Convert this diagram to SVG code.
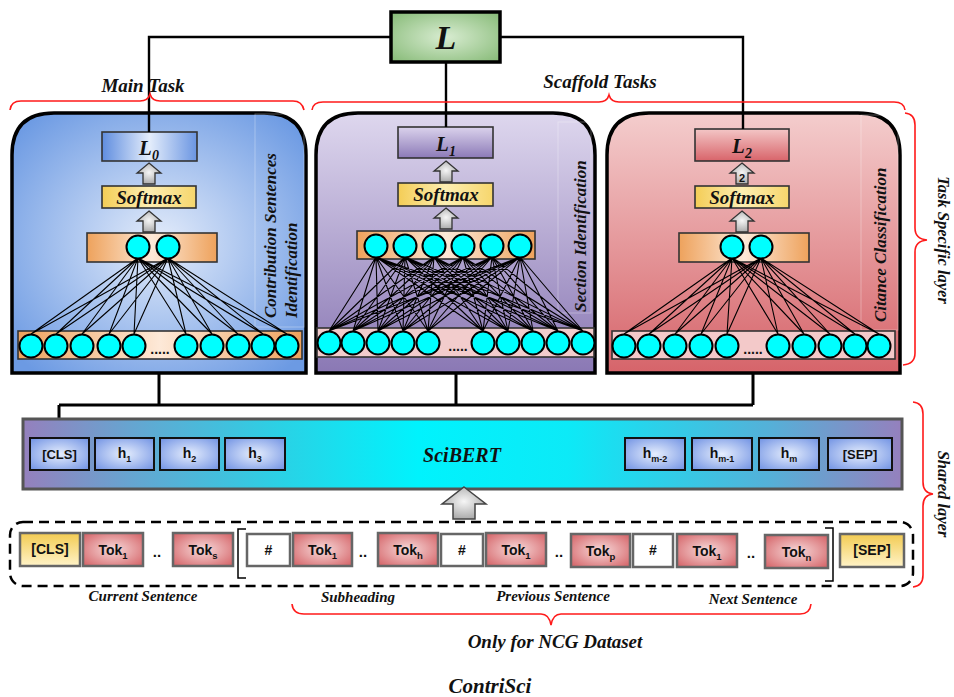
<svg xmlns="http://www.w3.org/2000/svg" width="954" height="697" viewBox="0 0 954 697">
  <style>
    .bi { font-family: "Liberation Serif", "Times New Roman", serif; font-weight: bold; font-style: italic; fill: #111; }
    .sans { font-family: "Liberation Sans", Arial, sans-serif; font-weight: bold; fill: #111; }
    .panel { stroke: #000; stroke-width: 3.5; }
    .frame { fill: none; stroke: #fff; stroke-opacity: 0.3; stroke-width: 1; }
    .node { fill: #00ffff; stroke: #000; stroke-width: 2; }
    .mesh { fill: none; stroke: #000; stroke-width: 1.1; }
    .box { stroke: #333; stroke-width: 1.6; }
    .arrow { fill: url(#gArrow); stroke: #333; stroke-width: 1.3; }
    .brace { fill: none; stroke: #ff1a1a; stroke-width: 1.6; }
    .wire { fill: none; stroke: #000; stroke-width: 2.4; }
    .wire2 { fill: none; stroke: #000; stroke-width: 3; }
    .hbox { fill: url(#gH); stroke: #111; stroke-width: 2; }
    .tok { fill: url(#gTok); stroke: #666; stroke-width: 2.5; }
    .yel { fill: url(#gYel); stroke: #666; stroke-width: 2.5; }
    .hash { fill: #fff; stroke: #666; stroke-width: 2.5; }
  </style>
  <defs>
    <radialGradient id="gPanel1" cx="50%" cy="50%" r="65%">
      <stop offset="0" stop-color="#e4ecfa"/>
      <stop offset="1" stop-color="#6c9ae3"/>
    </radialGradient>
    <linearGradient id="gL0" x1="0" y1="0" x2="1" y2="0">
      <stop offset="0" stop-color="#5f8ddf"/>
      <stop offset="0.5" stop-color="#e4edfb"/>
      <stop offset="1" stop-color="#6a95e2"/>
    </linearGradient>
    <linearGradient id="gPanel2" x1="0" y1="0" x2="0" y2="1">
      <stop offset="0" stop-color="#ded7ee"/>
      <stop offset="1" stop-color="#8a78b4"/>
    </linearGradient>
    <linearGradient id="gL1" x1="0" y1="0" x2="0" y2="1">
      <stop offset="0" stop-color="#dad2ec"/>
      <stop offset="1" stop-color="#8c7ab7"/>
    </linearGradient>
    <linearGradient id="gPanel3" x1="0" y1="0" x2="0" y2="1">
      <stop offset="0" stop-color="#f4cdcd"/>
      <stop offset="1" stop-color="#d6646a"/>
    </linearGradient>
    <linearGradient id="gL2" x1="0" y1="0" x2="0" y2="1">
      <stop offset="0" stop-color="#f3c6c6"/>
      <stop offset="1" stop-color="#d8646a"/>
    </linearGradient>
    <linearGradient id="gSoft" x1="0" y1="0" x2="1" y2="0">
      <stop offset="0" stop-color="#f4cd56"/>
      <stop offset="0.5" stop-color="#fdeeb2"/>
      <stop offset="1" stop-color="#f6d66c"/>
    </linearGradient>
    <linearGradient id="gOrange" x1="0" y1="0" x2="1" y2="0">
      <stop offset="0" stop-color="#eea25c"/>
      <stop offset="0.5" stop-color="#fde9d8"/>
      <stop offset="1" stop-color="#eea25c"/>
    </linearGradient>
    <radialGradient id="gGreen" cx="50%" cy="50%" r="65%">
      <stop offset="0" stop-color="#d8ecd1"/>
      <stop offset="1" stop-color="#8bbd7c"/>
    </radialGradient>
    <linearGradient id="gSci" x1="0" y1="0" x2="1" y2="0">
      <stop offset="0" stop-color="#9580bd"/>
      <stop offset="0.12" stop-color="#67a4d0"/>
      <stop offset="0.3" stop-color="#28d3e6"/>
      <stop offset="0.45" stop-color="#00f3fd"/>
      <stop offset="0.62" stop-color="#0ceaf7"/>
      <stop offset="0.85" stop-color="#55b0d8"/>
      <stop offset="1" stop-color="#9580bd"/>
    </linearGradient>
    <radialGradient id="gH" cx="50%" cy="50%" r="65%">
      <stop offset="0" stop-color="#e6eefd"/>
      <stop offset="1" stop-color="#7898e5"/>
    </radialGradient>
    <radialGradient id="gTok" cx="50%" cy="50%" r="65%">
      <stop offset="0" stop-color="#f7dada"/>
      <stop offset="1" stop-color="#d6686c"/>
    </radialGradient>
    <linearGradient id="gYel" x1="0" y1="0" x2="0" y2="1">
      <stop offset="0" stop-color="#f2cb52"/>
      <stop offset="1" stop-color="#fff3c8"/>
    </linearGradient>
    <radialGradient id="gArrow" cx="50%" cy="45%" r="65%">
      <stop offset="0" stop-color="#f6f6f6"/>
      <stop offset="1" stop-color="#9e9e9e"/>
    </radialGradient>
    <!-- small up arrow, tip at origin -->
    <polygon id="up" points="0,0 12,10 6,10 6,21 -6,21 -6,10 -12,10"/>
  </defs>

  <rect width="954" height="697" fill="#fff"/>

  <!-- Task panels -->
  <g id="panel-main">
    <path class="panel" fill="url(#gPanel1)" d="M12 373 L12 155 Q12 113 54 113 L264 113 Q306 113 306 155 L306 373 Z"/>
    <rect class="frame" x="255" y="114" width="49" height="213"/>
    <rect class="box" x="102" y="132" width="95" height="29" fill="url(#gL0)"/>
    <text class="bi" x="149" y="155" font-size="21" text-anchor="middle">L<tspan dy="5" font-size="14">0</tspan></text>
    <use href="#up" class="arrow" x="149" y="163"/>
    <rect class="box" x="102" y="186" width="94" height="22" fill="url(#gSoft)"/>
    <text class="bi" x="149" y="204" font-size="19" text-anchor="middle">Softmax</text>
    <use href="#up" class="arrow" x="149" y="211"/>
    <rect class="box" x="87" y="233" width="130" height="29" fill="url(#gOrange)"/>
    <rect class="box" x="18" y="331" width="284" height="28" fill="url(#gOrange)"/>
    <path class="mesh" d="M138 258 31 334M138 258 56 334M138 258 82 334M138 258 109 334M138 258 134 334M138 258 186 334M138 258 212 334M138 258 238 334M138 258 263 334M138 258 287 334M168 258 31 334M168 258 56 334M168 258 82 334M168 258 109 334M168 258 134 334M168 258 186 334M168 258 212 334M168 258 238 334M168 258 263 334M168 258 287 334"/>
    <circle class="node" cx="138" cy="247" r="11.5"/>
    <circle class="node" cx="168" cy="247" r="11.5"/>
    <circle class="node" cx="31" cy="346" r="11.5"/>
    <circle class="node" cx="56" cy="346" r="11.5"/>
    <circle class="node" cx="82" cy="346" r="11.5"/>
    <circle class="node" cx="109" cy="346" r="11.5"/>
    <circle class="node" cx="134" cy="346" r="11.5"/>
    <circle class="node" cx="186" cy="346" r="11.5"/>
    <circle class="node" cx="212" cy="346" r="11.5"/>
    <circle class="node" cx="238" cy="346" r="11.5"/>
    <circle class="node" cx="263" cy="346" r="11.5"/>
    <circle class="node" cx="287" cy="346" r="11.5"/>
    <text class="sans" x="160" y="354" font-size="14" text-anchor="middle">.....</text>
    <text class="bi" font-size="17" transform="translate(276,318) rotate(-90)">Contribution Sentences</text>
    <text class="bi" font-size="17" transform="translate(297,318) rotate(-90)">Identification</text>
  </g>

  <g id="panel-section">
    <path class="panel" fill="url(#gPanel2)" d="M316 373 L316 155 Q316 113 358 113 L553 113 Q595 113 595 155 L595 373 Z"/>
    <rect class="frame" x="558" y="122" width="33" height="191"/>
    <rect class="box" x="398" y="127" width="95" height="31" fill="url(#gL1)"/>
    <text class="bi" x="446" y="151" font-size="21" text-anchor="middle">L<tspan dy="5" font-size="14">1</tspan></text>
    <use href="#up" class="arrow" x="446" y="161"/>
    <rect class="box" x="398" y="183" width="95" height="23" fill="url(#gSoft)"/>
    <text class="bi" x="446" y="201" font-size="19" text-anchor="middle">Softmax</text>
    <use href="#up" class="arrow" x="446" y="208"/>
    <rect class="box" x="357" y="231" width="178" height="28" fill="url(#gOrange)"/>
    <rect class="box" x="317" y="328" width="277" height="29" fill="#f2cccc"/>
    <path class="mesh" d="M376 257 329 331M376 257 353 331M376 257 378 331M376 257 403 331M376 257 428 331M376 257 483 331M376 257 508 331M376 257 533 331M376 257 558 331M376 257 583 331M405 257 329 331M405 257 353 331M405 257 378 331M405 257 403 331M405 257 428 331M405 257 483 331M405 257 508 331M405 257 533 331M405 257 558 331M405 257 583 331M434 257 329 331M434 257 353 331M434 257 378 331M434 257 403 331M434 257 428 331M434 257 483 331M434 257 508 331M434 257 533 331M434 257 558 331M434 257 583 331M463 257 329 331M463 257 353 331M463 257 378 331M463 257 403 331M463 257 428 331M463 257 483 331M463 257 508 331M463 257 533 331M463 257 558 331M463 257 583 331M492 257 329 331M492 257 353 331M492 257 378 331M492 257 403 331M492 257 428 331M492 257 483 331M492 257 508 331M492 257 533 331M492 257 558 331M492 257 583 331M520 257 329 331M520 257 353 331M520 257 378 331M520 257 403 331M520 257 428 331M520 257 483 331M520 257 508 331M520 257 533 331M520 257 558 331M520 257 583 331"/>
    <circle class="node" cx="376" cy="246" r="11.5"/>
    <circle class="node" cx="405" cy="246" r="11.5"/>
    <circle class="node" cx="434" cy="246" r="11.5"/>
    <circle class="node" cx="463" cy="246" r="11.5"/>
    <circle class="node" cx="492" cy="246" r="11.5"/>
    <circle class="node" cx="520" cy="246" r="11.5"/>
    <circle class="node" cx="329" cy="343" r="11.5"/>
    <circle class="node" cx="353" cy="343" r="11.5"/>
    <circle class="node" cx="378" cy="343" r="11.5"/>
    <circle class="node" cx="403" cy="343" r="11.5"/>
    <circle class="node" cx="428" cy="343" r="11.5"/>
    <circle class="node" cx="483" cy="343" r="11.5"/>
    <circle class="node" cx="508" cy="343" r="11.5"/>
    <circle class="node" cx="533" cy="343" r="11.5"/>
    <circle class="node" cx="558" cy="343" r="11.5"/>
    <circle class="node" cx="583" cy="343" r="11.5"/>
    <text class="sans" x="458" y="351" font-size="14" text-anchor="middle">.....</text>
    <text class="bi" font-size="17" transform="translate(586,312) rotate(-90)">Section Identification</text>
  </g>

  <g id="panel-citance">
    <path class="panel" fill="url(#gPanel3)" d="M607 373 L607 155 Q607 113 649 113 L858 113 Q900 113 900 155 L900 373 Z"/>
    <rect class="frame" x="861" y="115" width="37" height="215"/>
    <rect class="box" x="695" y="129" width="94" height="32" fill="url(#gL2)"/>
    <text class="bi" x="742" y="153" font-size="21" text-anchor="middle">L<tspan dy="5" font-size="14">2</tspan></text>
    <use href="#up" class="arrow" x="742" y="163"/>
    <text class="sans" x="742" y="182" font-size="11" font-weight="normal" text-anchor="middle" fill="#333">2</text>
    <rect class="box" x="695" y="186" width="94" height="22" fill="url(#gSoft)"/>
    <text class="bi" x="742" y="204" font-size="19" text-anchor="middle">Softmax</text>
    <use href="#up" class="arrow" x="742" y="211"/>
    <rect class="box" x="679" y="233" width="130" height="29" fill="url(#gOrange)"/>
    <rect class="box" x="612" y="331" width="283" height="28" fill="#f3c9c9"/>
    <path class="mesh" d="M732 258 624 334M732 258 649 334M732 258 675 334M732 258 701 334M732 258 727 334M732 258 778 334M732 258 804 334M732 258 830 334M732 258 855 334M732 258 879 334M761 258 624 334M761 258 649 334M761 258 675 334M761 258 701 334M761 258 727 334M761 258 778 334M761 258 804 334M761 258 830 334M761 258 855 334M761 258 879 334"/>
    <circle class="node" cx="732" cy="247" r="11.5"/>
    <circle class="node" cx="761" cy="247" r="11.5"/>
    <circle class="node" cx="624" cy="346" r="11.5"/>
    <circle class="node" cx="649" cy="346" r="11.5"/>
    <circle class="node" cx="675" cy="346" r="11.5"/>
    <circle class="node" cx="701" cy="346" r="11.5"/>
    <circle class="node" cx="727" cy="346" r="11.5"/>
    <circle class="node" cx="778" cy="346" r="11.5"/>
    <circle class="node" cx="804" cy="346" r="11.5"/>
    <circle class="node" cx="830" cy="346" r="11.5"/>
    <circle class="node" cx="855" cy="346" r="11.5"/>
    <circle class="node" cx="879" cy="346" r="11.5"/>
    <text class="sans" x="753" y="354" font-size="14" text-anchor="middle">.....</text>
    <text class="bi" font-size="17" transform="translate(886,322) rotate(-90)">Citance Classification</text>
  </g>

  <!-- Connectors -->
  <g id="connectors">
    <path class="wire" d="M391 37 H149 V132"/>
    <path class="wire" d="M500 37 H743 V129"/>
    <path class="wire" d="M446 62 V127"/>
    <path class="wire2" d="M159 373 V405 M456 373 V405 M753 373 V405 M59 405 H753 M59 405 V438"/>
  </g>

  <!-- Total loss -->
  <g id="loss">
    <rect x="391" y="12" width="109" height="50" fill="url(#gGreen)" stroke="#000" stroke-width="3.5"/>
    <text class="bi" x="446" y="49" font-size="34" text-anchor="middle">L</text>
  </g>

  <!-- Group labels and braces -->
  <g id="labels">
    <text class="bi" x="143" y="92" font-size="19" text-anchor="middle">Main Task</text>
    <path class="brace" d="M10 110 Q11 101 21 101 L140 101 Q148 101 150 94 Q152 101 160 101 L293 101 Q302 101 304 110"/>
    <text class="bi" x="600" y="88" font-size="19" text-anchor="middle">Scaffold Tasks</text>
    <path class="brace" d="M312 110 Q313 102 323 102 L599 102 Q607 102 609 95 Q611 102 619 102 L894 102 Q904 102 905 110"/>
    <path class="brace" d="M905 113 Q915 114 915 125 L915 228 Q915 239 927 240 Q915 241 915 252 L915 353 Q915 364 903 365"/>
    <text class="bi" font-size="16.5" text-anchor="middle" transform="translate(938,240) rotate(90)">Task Specific layer</text>
    <path class="brace" d="M913 402 Q923 403 923 414 L923 482 Q923 493 933 494 Q923 495 923 506 L923 575 Q923 586 913 587"/>
    <text class="bi" font-size="16.5" text-anchor="middle" transform="translate(938,494) rotate(90)">Shared layer</text>
  </g>

  <!-- Shared encoder -->
  <g id="scibert">
    <rect x="23" y="419" width="879" height="70" fill="url(#gSci)" stroke="#555" stroke-width="3"/>
    <text class="bi" x="462" y="462" font-size="20" text-anchor="middle">SciBERT</text>
    <rect class="hbox" x="30" y="438" width="59" height="32"/>
    <text class="sans" x="59.5" y="459" font-size="13" text-anchor="middle">[CLS]</text>
    <rect class="hbox" x="95" y="438" width="59" height="32"/>
    <text class="sans" x="124.5" y="458" font-size="14" text-anchor="middle">h<tspan dy="4" font-size="9">1</tspan></text>
    <rect class="hbox" x="160" y="438" width="59" height="32"/>
    <text class="sans" x="189.5" y="458" font-size="14" text-anchor="middle">h<tspan dy="4" font-size="9">2</tspan></text>
    <rect class="hbox" x="225" y="438" width="60" height="32"/>
    <text class="sans" x="255" y="458" font-size="14" text-anchor="middle">h<tspan dy="4" font-size="9">3</tspan></text>
    <rect class="hbox" x="625" y="438" width="60" height="32"/>
    <text class="sans" x="655" y="458" font-size="14" text-anchor="middle">h<tspan dy="4" font-size="9">m-2</tspan></text>
    <rect class="hbox" x="692" y="438" width="60" height="32"/>
    <text class="sans" x="722" y="458" font-size="14" text-anchor="middle">h<tspan dy="4" font-size="9">m-1</tspan></text>
    <rect class="hbox" x="759" y="438" width="60" height="32"/>
    <text class="sans" x="789" y="458" font-size="14" text-anchor="middle">h<tspan dy="4" font-size="9">m</tspan></text>
    <rect class="hbox" x="828" y="438" width="64" height="32"/>
    <text class="sans" x="860" y="459" font-size="13" text-anchor="middle">[SEP]</text>
  </g>

  <!-- Input to encoder -->
  <g id="input-arrow">
    <polygon points="464,487 486,504 475,504 475,519 453,519 453,504 442,504" fill="url(#gArrow)" stroke="#444" stroke-width="1.5"/>
  </g>

  <!-- Input sequence -->
  <g id="input">
    <rect x="10" y="522" width="903" height="64" rx="13" fill="none" stroke="#000" stroke-width="2.5" stroke-dasharray="10 6"/>
    <rect class="yel" x="20" y="533" width="60" height="33"/>
    <text class="sans" x="50" y="554" font-size="14" text-anchor="middle">[CLS]</text>
    <rect class="tok" x="83" y="533" width="60" height="33"/>
    <text class="sans" x="113" y="555" font-size="14" text-anchor="middle">Tok<tspan dy="4" font-size="9.5">1</tspan></text>
    <text class="sans" x="157" y="557" font-size="15" text-anchor="middle">..</text>
    <rect class="tok" x="173" y="533" width="60" height="33"/>
    <text class="sans" x="203" y="555" font-size="14" text-anchor="middle">Tok<tspan dy="4" font-size="9.5">s</tspan></text>
    <path d="M246 529 H238 V578 H246" fill="none" stroke="#000" stroke-width="1.5"/>
    <rect class="hash" x="247" y="534" width="43" height="32"/>
    <text class="sans" x="268.5" y="555" font-size="14" text-anchor="middle">#</text>
    <rect class="tok" x="293" y="533" width="59" height="33"/>
    <text class="sans" x="322.5" y="555" font-size="14" text-anchor="middle">Tok<tspan dy="4" font-size="9.5">1</tspan></text>
    <text class="sans" x="363" y="557" font-size="15" text-anchor="middle">..</text>
    <rect class="tok" x="378" y="533" width="60" height="33"/>
    <text class="sans" x="408" y="555" font-size="14" text-anchor="middle">Tok<tspan dy="4" font-size="9.5">h</tspan></text>
    <rect class="hash" x="441" y="534" width="42" height="32"/>
    <text class="sans" x="462" y="555" font-size="14" text-anchor="middle">#</text>
    <rect class="tok" x="486" y="533" width="60" height="33"/>
    <text class="sans" x="516" y="555" font-size="14" text-anchor="middle">Tok<tspan dy="4" font-size="9.5">1</tspan></text>
    <text class="sans" x="559" y="557" font-size="15" text-anchor="middle">..</text>
    <rect class="tok" x="571" y="534" width="59" height="33"/>
    <text class="sans" x="600.5" y="556" font-size="14" text-anchor="middle">Tok<tspan dy="4" font-size="9.5">p</tspan></text>
    <rect class="hash" x="633" y="534" width="40" height="33"/>
    <text class="sans" x="653" y="555" font-size="14" text-anchor="middle">#</text>
    <rect class="tok" x="677" y="534" width="60" height="33"/>
    <text class="sans" x="707" y="556" font-size="14" text-anchor="middle">Tok<tspan dy="4" font-size="9.5">1</tspan></text>
    <text class="sans" x="751" y="558" font-size="15" text-anchor="middle">..</text>
    <rect class="tok" x="765" y="535" width="63" height="33"/>
    <text class="sans" x="796.5" y="557" font-size="14" text-anchor="middle">Tok<tspan dy="4" font-size="9.5">n</tspan></text>
    <path d="M825 528 H833 V581 H825" fill="none" stroke="#000" stroke-width="1.5"/>
    <rect class="yel" x="840" y="534" width="64" height="33"/>
    <text class="sans" x="872" y="555" font-size="14" text-anchor="middle">[SEP]</text>
  </g>

  <!-- Segment captions -->
  <g id="captions">
    <text class="bi" x="143" y="601" font-size="15" text-anchor="middle">Current Sentence</text>
    <text class="bi" x="358" y="602" font-size="15" text-anchor="middle">Subheading</text>
    <text class="bi" x="553" y="601" font-size="15" text-anchor="middle">Previous Sentence</text>
    <text class="bi" x="753" y="604" font-size="15" text-anchor="middle">Next Sentence</text>
    <path class="brace" d="M292 604 Q293 614 304 614 L541 614 Q549 614 551 625 Q553 614 561 614 L800 614 Q810 614 811 604"/>
    <text class="bi" x="555" y="648" font-size="19" text-anchor="middle">Only for NCG Dataset</text>
    <text class="bi" x="490" y="693" font-size="21" text-anchor="middle">ContriSci</text>
  </g>
</svg>
